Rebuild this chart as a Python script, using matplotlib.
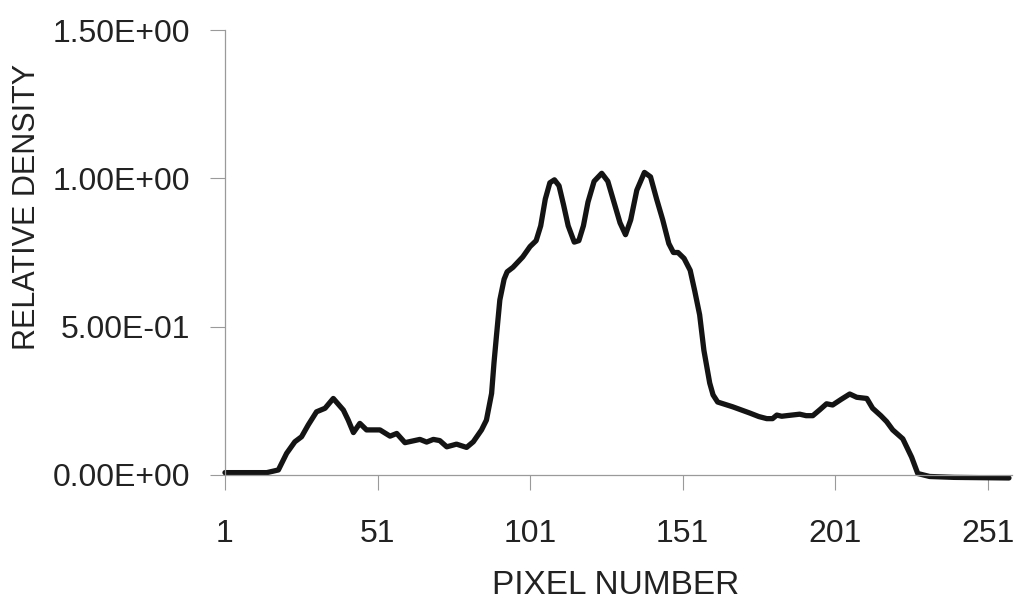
import numpy as np
import matplotlib.pyplot as plt

plt.rcParams['font.family'] = ['Liberation Sans', 'DejaVu Sans']

# densitometer trace
pixel = [1, 8, 14.7, 18.5, 21.2, 23.9, 26.1, 28.3, 31.0, 33.8, 36.5, 39.8, 41.4,
         43.1, 45.2, 47.4, 51.8, 55.1, 57.3, 60.0, 64.9, 67.1, 69.3, 71.4, 73.7,
         76.9, 80.2, 82.4, 85.1, 86.7, 88.4, 89.2, 90.0, 91.1, 92.5, 93.5, 95.4,
         98.6, 101, 103, 104.5, 106, 107.5, 109, 110.5, 112, 113.5, 115.5, 117,
         118.5, 120, 122, 124.5, 126.5, 128.5, 130.5, 132.3, 134, 136, 138.5,
         140.5, 142.5, 144.5, 146.5, 148, 149.5, 151.5, 153.5, 155, 156.6, 158,
         159.9, 161, 162.5, 167.4, 173, 176, 178.6, 180.5, 181.9, 183.5, 185.1,
         189.4, 191.5, 193.7, 196, 198.2, 200.2, 203, 205.8, 208.1, 211.4, 213.3,
         216, 217.9, 219.9, 223.2, 226.1, 228.1, 232, 240, 258]
density = [0.008, 0.008, 0.008, 0.017, 0.073, 0.112, 0.129, 0.169, 0.213, 0.225,
           0.258, 0.219, 0.185, 0.143, 0.174, 0.152, 0.152, 0.131, 0.140, 0.109,
           0.120, 0.111, 0.120, 0.116, 0.095, 0.104, 0.093, 0.112, 0.152, 0.185,
           0.275, 0.38, 0.47, 0.59, 0.66, 0.685, 0.70, 0.735, 0.77, 0.79, 0.84,
           0.93, 0.985, 0.995, 0.975, 0.91, 0.84, 0.785, 0.79, 0.84, 0.92, 0.99,
           1.017, 0.99, 0.92, 0.85, 0.81, 0.86, 0.96, 1.02, 1.005, 0.93, 0.86,
           0.78, 0.75, 0.75, 0.73, 0.69, 0.62, 0.54, 0.42, 0.31, 0.27, 0.246,
           0.23, 0.209, 0.197, 0.19, 0.19, 0.202, 0.198, 0.20, 0.205, 0.20, 0.20,
           0.22, 0.24, 0.236, 0.255, 0.273, 0.262, 0.258, 0.225, 0.20, 0.18,
           0.152, 0.122, 0.06, 0.005, -0.005, -0.008, -0.01]

x_ticks = [1, 51, 101, 151, 201, 251]
y_ticks = [0, 0.5, 1.0, 1.5]
y_tick_labels = ['0.00E+00', '5.00E-01', '1.00E+00', '1.50E+00']

W, H = 1020, 614
fig = plt.figure(figsize=(W / 100, H / 100), dpi=100)
ax = fig.add_axes([225 / W, (H - 475) / H, 787 / W, 445 / H])

ax.plot(pixel, density, color='#141414', lw=3.8, solid_joinstyle='round',
        solid_capstyle='round', clip_on=False)

ax.set_xlim(1, 259)
ax.set_ylim(0, 1.5)
ax.set_xticks(x_ticks)
ax.set_yticks(y_ticks)
ax.set_yticklabels(y_tick_labels)

for s in ['top', 'right']:
    ax.spines[s].set_visible(False)
for s in ['left', 'bottom']:
    ax.spines[s].set_color('#9a9a9a')
    ax.spines[s].set_linewidth(0.9)

ax.tick_params(direction='out', length=11, width=0.8, color='#9a9a9a',
               labelcolor='#222222', labelsize=23)
ax.tick_params(axis='y', pad=14)
ax.tick_params(axis='x', pad=21)

fig.text(616 / W, 1 - 586 / H, 'PIXEL NUMBER', ha='center', va='center',
         fontsize=24, color='#222222')
fig.text(27 / W, 1 - 207 / H, 'RELATIVE DENSITY', ha='center', va='center',
         rotation=90, fontsize=22, color='#222222')

fig.savefig('out.png', dpi=100)
